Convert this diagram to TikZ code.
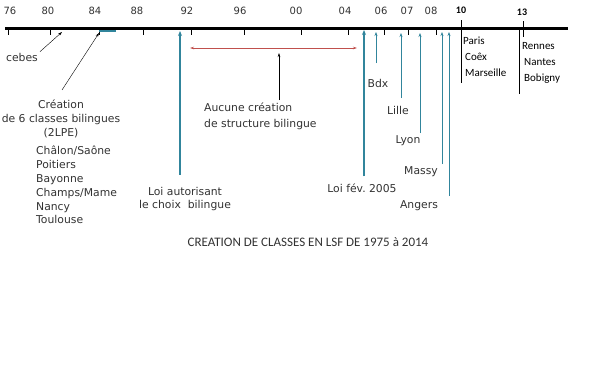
\documentclass[tikz,border=0pt]{standalone}
\usepackage{fontspec}
\setmainfont{Carlito}
\newfontfamily\verd{DejaVu Sans}
\usetikzlibrary{arrows.meta,calc,positioning}
\definecolor{teal1}{RGB}{49,133,156}
\definecolor{red1}{RGB}{192,80,77}
\definecolor{txt}{RGB}{50,50,50}
\tikzset{
  lbl/.style={font=\verd\fontsize{10.8}{13.8}\selectfont,inner sep=0pt,text=txt},
  yr/.style={font=\verd\fontsize{10}{12}\selectfont,inner sep=0pt,text=txt},
  yrb/.style={font=\bfseries\fontsize{10}{12}\selectfont,inner sep=0pt},
  town/.style={font=\fontsize{11}{16}\selectfont,inner sep=0pt,align=left,anchor=north west},
  ptr/.style={-{Stealth[length=4pt,width=2.5pt]},line width=0.4pt},
  up/.style={-{Stealth[length=4pt,width=3pt]},teal1,line width=0.8pt},
  law/.style={-{Stealth[length=5pt,width=4pt]},teal1,line width=1.6pt}
}
\begin{document}
\begin{tikzpicture}[x=1pt,y=-1pt]
\useasboundingbox (0,0) rectangle (600,375);
\coordinate (axL) at (5,28);
\coordinate (axR) at (568,28);
\draw [line width=3pt] (axL) -- (axR);
\foreach \tx/\lx/\yr in {8/10/76,50/48/80,99/95/84,143/137/88,191/187/92,244/240/96,301/296/00,348/345/04,384/381/06,408/407/07,436/431/08} {
  \draw (\tx,29) -- (\tx,35);
  \node [yr] (y\yr) at (\lx,11) {\yr};
}
\node [yrb] (y10) at (461,10) {10};
\node [yrb] (y13) at (522,12) {13};
\draw (461,20) -- (461,83);
\draw (523,21) -- (523,37);
\draw (519,28) -- (519,94);
\draw [teal1,line width=2pt] (99,30.5) -- (116,30.5);

\node [lbl] (cebes) at (22,57) {cebes};
\node [lbl,align=center] (creation) at (61,119) {Création\\de 6 classes bilingues\\(2LPE)};
\node [lbl,align=left,anchor=north west] (villes) at (36,146) {Châlon/Saône\\Poitiers\\Bayonne\\Champs/Mame\\Nancy\\Toulouse};
\coordinate (cebesT) at (62,32);
\coordinate (creaT) at (99,33);
\draw [ptr] ($(cebes.north east)+(2,-1)$) -- (cebesT);
\draw [ptr] ($(creation.north)+(1,-10)$) -- (creaT);

\node [lbl,align=center] (loi92) at (185,199) {Loi autorisant\\le choix~ bilingue};
\coordinate (loi92T) at (180,31);
\draw [law] ($(loi92.north)+(-5,-12)$) -- (loi92T);

\coordinate (rL) at (190,48);
\coordinate (rR) at (357,48);
\draw [{Stealth[length=4pt,width=2.5pt]}-{Stealth[length=4pt,width=2.5pt]},red1,line width=0.8pt] (rL) -- (rR);
\node [lbl,align=left,anchor=north west,font=\verd\fontsize{10.8}{16}\selectfont] (aucune) at (204,103) {Aucune création\\de structure bilingue};
\coordinate (aucT) at (279,53);
\draw [ptr] (279,100) -- (aucT);

\node [lbl] (loi05) at (362,188) {Loi fév.\ 2005};
\coordinate (loi05T) at (364,30);
\draw [law] ($(loi05.north)+(2,-7)$) -- (loi05T);

\node [lbl] (bdx) at (378,83) {Bdx};
\node [lbl] (lille) at (398,110) {Lille};
\node [lbl] (lyon) at (408,141) {Lyon};
\node [lbl] (massy) at (421,172) {Massy};
\node [lbl] (angers) at (419,206) {Angers};
\coordinate (bdxT) at (376,32);
\coordinate (lilleT) at (401,33);
\coordinate (lyonT) at (420,33);
\coordinate (massyT) at (442,32);
\coordinate (angersT) at (449,32);
\draw [up] (376,63) -- (bdxT);
\draw [up] (401,98) -- (lilleT);
\draw [up] (420,133) -- (lyonT);
\draw [up] (442,164) -- (massyT);
\draw [up] (449,196) -- (angersT);

\node [town] (paris) at (463,37) {Paris\\\hspace{2pt}Coêx\\\hspace{2pt}Marseille};
\node [town] (rennes) at (522,42) {Rennes\\\hspace{2pt}Nantes\\\hspace{2pt}Bobigny};

\node [font=\fontsize{13}{15}\selectfont,inner sep=0pt,text=txt] (titre) at (308,242) {CREATION DE CLASSES EN LSF DE 1975 à 2014};
\end{tikzpicture}
\end{document}
